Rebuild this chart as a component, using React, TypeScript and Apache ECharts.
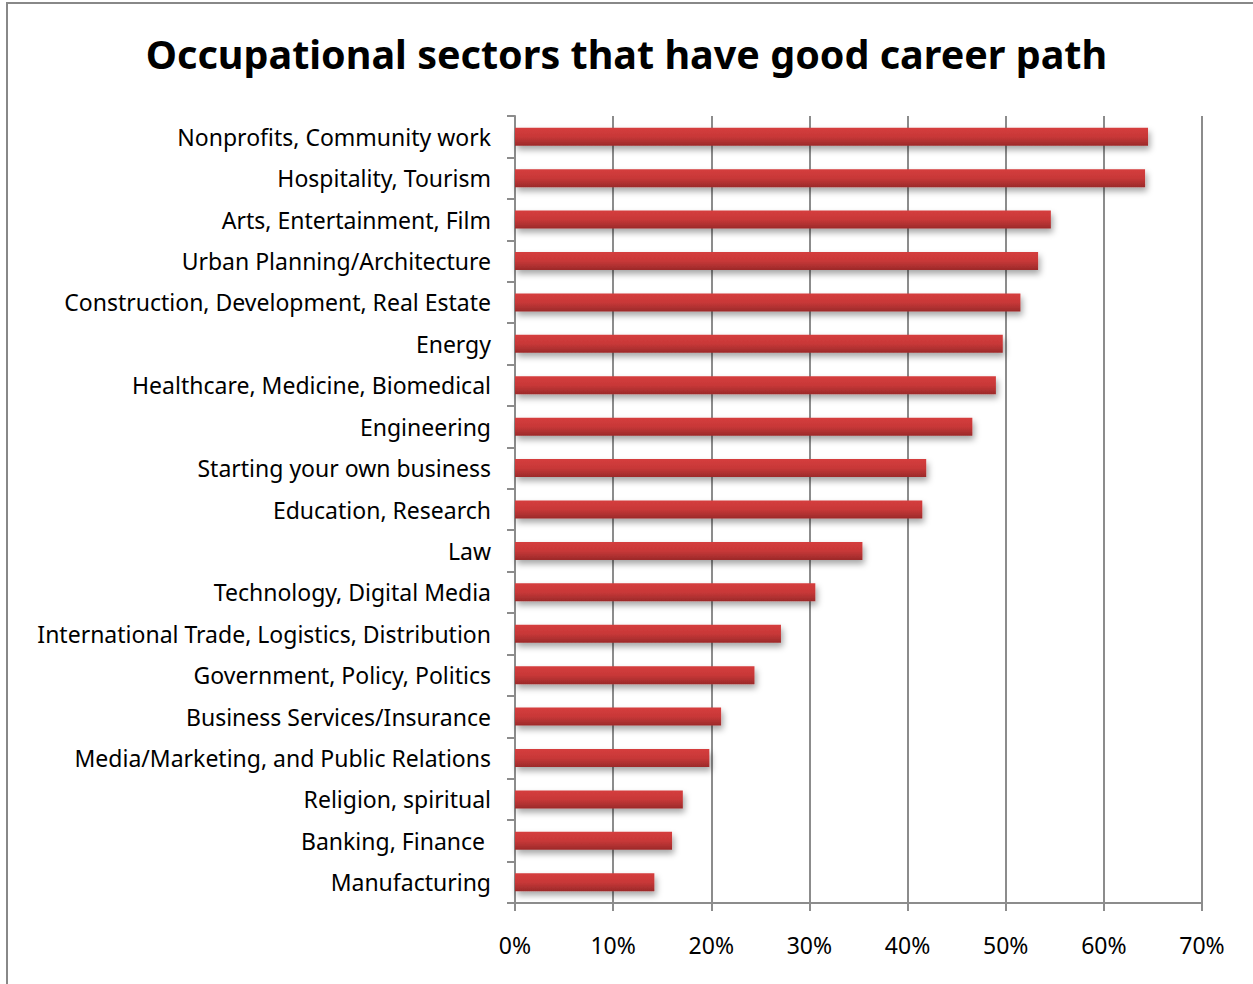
import React, { useEffect, useRef } from "react";
import * as echarts from "echarts";

const categories = [
  "Nonprofits, Community work",
  "Hospitality, Tourism",
  "Arts, Entertainment, Film",
  "Urban Planning/Architecture",
  "Construction, Development, Real Estate",
  "Energy",
  "Healthcare, Medicine, Biomedical",
  "Engineering",
  "Starting your own business",
  "Education, Research",
  "Law",
  "Technology, Digital Media",
  "International Trade, Logistics, Distribution",
  "Government, Policy, Politics",
  "Business Services/Insurance",
  "Media/Marketing, and Public Relations",
  "Religion, spiritual",
  "Banking, Finance ",
  "Manufacturing",
];

const values = [
  64.5, 64.2, 54.6, 53.3, 51.5, 49.7, 49.0, 46.6, 41.9, 41.5, 35.4, 30.6, 27.1,
  24.4, 21.0, 19.8, 17.1, 16.0, 14.2,
];

const title = "Occupational sectors that have good career path";

export default function App() {
  const ref = useRef<HTMLDivElement>(null);
  useEffect(() => {
    if (!ref.current) return;
    const chart = echarts.init(ref.current, null, { renderer: "svg" });
    const font = "Noto Sans";
    chart.setOption({
      animation: false,
      backgroundColor: "#ffffff",
      title: {
        text: title,
        left: "center",
        top: 29,
        textStyle: { fontFamily: font, fontWeight: "bold", fontSize: 39.5, color: "#000" },
      },
      graphic: [
        {
          type: "rect",
          shape: { x: 7, y: 3, width: 1300, height: 1100 },
          style: { fill: "none", stroke: "#888", lineWidth: 2 },
          silent: true,
          z: 100,
        },
      ],
      grid: { left: 515, right: 51, top: 116, bottom: 81, containLabel: false },
      xAxis: {
        type: "value",
        min: 0,
        max: 70,
        interval: 10,
        axisLine: { show: true, lineStyle: { color: "#8c8c8c", width: 2 } },
        axisTick: { show: true, length: 8, lineStyle: { color: "#8c8c8c", width: 2 } },
        splitLine: { show: true, lineStyle: { color: "#8c8c8c", width: 2 } },
        axisLabel: {
          formatter: "{value}%",
          fontFamily: font,
          fontSize: 23,
          color: "#000",
          margin: 30,
        },
      },
      yAxis: {
        type: "category",
        data: categories,
        inverse: true,
        axisLine: { show: true, lineStyle: { color: "#8c8c8c", width: 2 } },
        axisTick: { show: true, length: 8, lineStyle: { color: "#8c8c8c", width: 2 } },
        axisLabel: {
          fontFamily: font,
          fontSize: 23,
          color: "#000",
          margin: 24,
        },
      },
      series: [
        {
          type: "bar",
          data: values,
          barWidth: 18,
          itemStyle: {
            color: new echarts.graphic.LinearGradient(0, 0, 0, 1, [
              { offset: 0, color: "#d53d3d" },
              { offset: 0.5, color: "#c83838" },
              { offset: 1, color: "#9b2a2a" },
            ]),
            shadowColor: "rgba(0,0,0,0.35)",
            shadowBlur: 6,
            shadowOffsetX: 2,
            shadowOffsetY: 4,
          },
        },
      ],
    });
    return () => chart.dispose();
  }, []);
  return (
    <div
      ref={ref}
      style={{ position: "absolute", left: 0, top: 0, width: 1253, height: 984 }}
    />
  );
}
